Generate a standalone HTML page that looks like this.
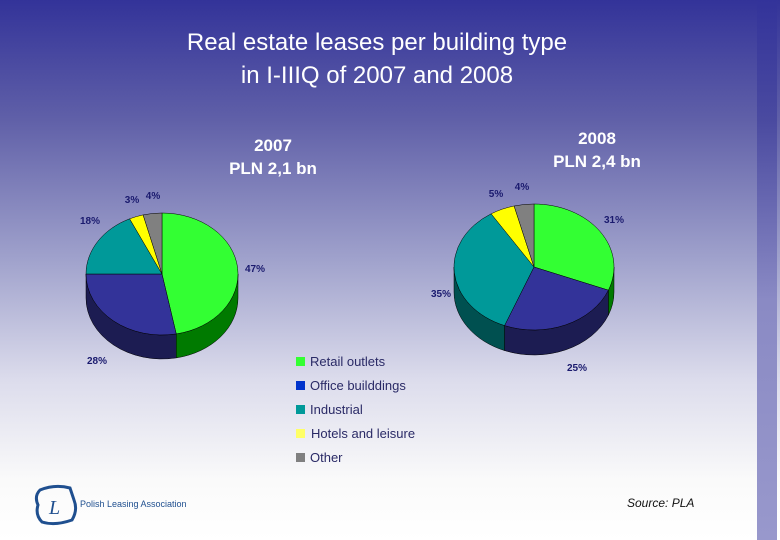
<!DOCTYPE html>
<html><head><meta charset="utf-8"><style>
body{margin:0;width:780px;height:540px;overflow:hidden;font-family:"Liberation Sans",sans-serif}
#bg{position:absolute;left:0;top:0;width:780px;height:540px;background:linear-gradient(#333399 0px,#6060a8 120px,#a0a2cc 260px,#dcdcec 380px,#fafafa 480px,#ffffff 540px)}
#strip{position:absolute;left:757px;top:0;width:20px;height:540px;background:linear-gradient(#33339a,#4a4aa0 120px,#8a8ac4 300px,#9898cc 540px)}
</style></head><body>
<div id="bg"></div>
<div id="strip"></div>
<svg width="780" height="540" style="position:absolute;left:0;top:0" id="svg">
<text x="377" y="50" font-size="24" text-anchor="middle" fill="#fff">Real estate leases per building type</text>
<text x="377" y="83" font-size="24" text-anchor="middle" fill="#fff">in I-IIIQ of 2007 and 2008</text>
<text x="273" y="151" font-size="17" font-weight="bold" text-anchor="middle" fill="#fff">2007</text>
<text x="273" y="174" font-size="17" font-weight="bold" text-anchor="middle" fill="#fff">PLN 2,1 bn</text>
<text x="597" y="144" font-size="17" font-weight="bold" text-anchor="middle" fill="#fff">2008</text>
<text x="597" y="167" font-size="17" font-weight="bold" text-anchor="middle" fill="#fff">PLN 2,4 bn</text>
<g id="pies"></g>
<g id="legend"></g>
<g>
<path d="M40 490 Q55 484 70 488 L74 500 Q78 510 72 520 Q55 526 42 522 Q35 515 38 505 Q34 496 40 490 Z" fill="none" stroke="#1f4f8f" stroke-width="3"/>
<text x="49" y="514" font-size="20" font-style="italic" font-family="Liberation Serif,serif" fill="#1f4f8f">L</text>
<text x="80" y="507" font-size="9" fill="#1f4f8f">Polish Leasing Association</text>
</g>
<text x="627" y="507" font-size="12" font-style="italic" fill="#111">Source: PLA</text>
</svg>
<script>
const categories=["Retail outlets","Office builddings","Industrial","Hotels and leisure","Other"];
const values2007=[47,28,18,3,4];
const values2008=[31,25,35,5,4];
const topColors=["#33ff33","#333399","#009999","#ffff00","#808080"];
const sideColors=["#007a00","#1c1c52","#005050","#888800","#444444"];
const legendColors=["#33ff33","#0033cc","#009999","#ffff66","#808080"];
const NS="http://www.w3.org/2000/svg";
const pies=document.getElementById('pies');
function mk(t,a,p){const e=document.createElementNS(NS,t);for(const k in a)e.setAttribute(k,a[k]);(p||pies).appendChild(e);return e;}
function drawPie(vals,cx,cy,rx,ry,d,labelPos,name){
  const g=mk('g',{});
  
  
  const tot=vals.reduce((a,b)=>a+b,0);
  const P=(a,dy)=>[cx+rx*Math.sin(a),cy-ry*Math.cos(a)+(dy||0)];
  let angs=[];let s=0;
  vals.forEach(v=>{const a1=s/tot*2*Math.PI;s+=v;angs.push([a1,s/tot*2*Math.PI]);});
  angs.forEach(([a1,a2],i)=>{
    const b1=Math.max(a1,Math.PI/2),b2=Math.min(a2,3*Math.PI/2);
    if(b2<=b1)return;
    const p1=P(b1),p2=P(b2),q2=P(b2,d),q1=P(b1,d);
    const dd=`M${p1} A${rx},${ry} 0 0 1 ${p2} L${q2} A${rx},${ry} 0 0 0 ${q1} Z`;
    const e=mk('path',{d:dd,fill:sideColors[i],stroke:'#000','stroke-width':0.5},g);
    
    
  });
  angs.forEach(([a1,a2],i)=>{
    const p1=P(a1),p2=P(a2);const large=(a2-a1)>Math.PI?1:0;
    const e=mk('path',{d:`M${cx},${cy} L${p1} A${rx},${ry} 0 ${large} 1 ${p2} Z`,fill:topColors[i],stroke:'#000','stroke-width':0.5},g);
    
    
    const t=mk('text',{x:labelPos[i][0],y:labelPos[i][1],'font-size':10,'font-weight':'bold',fill:'#1a1a6e','text-anchor':'middle'},g);
    t.textContent=vals[i]+'%';
    
    
  });
}
drawPie(values2007,162,274,76,61,24,[[255,272],[97,364],[90,224],[132,203],[153,199]],'pie-2007');
drawPie(values2008,534,267,80,63,25,[[614,223],[577,371],[441,297],[496,197],[522,190]],'pie-2008');
const lg=document.getElementById('legend');
categories.forEach((c,i)=>{
  const y=362+i*24;
  const r=mk('rect',{x:296,y:y-5,width:9,height:9,fill:legendColors[i]},lg);
  
  
  const t=mk('text',{x:i==3?311:310,y:y+4,'font-size':13,fill:'#2a2a66'},lg);
  t.textContent=c;
  
  
});
</script>
</body></html>
